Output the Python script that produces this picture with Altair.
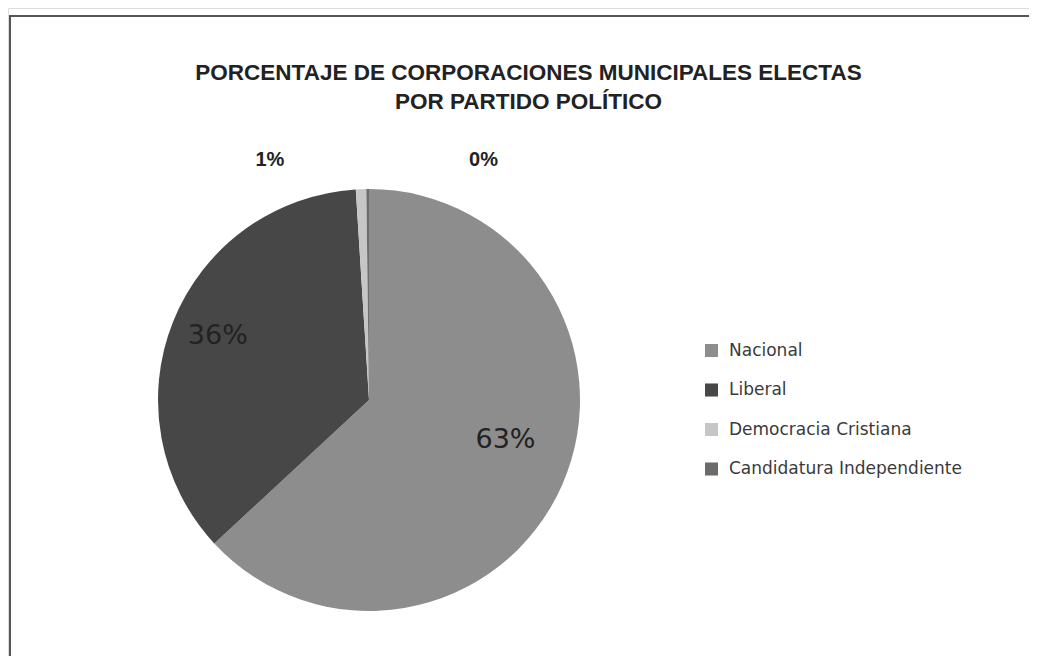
import altair as alt
import pandas as pd

partidos = ["Nacional", "Liberal", "Democracia Cristiana", "Candidatura Independiente"]
porcentajes = [63.1, 35.9, 0.8, 0.2]
etiquetas = ["63%", "36%", "1%", "0%"]
colores = ["#8d8d8d", "#474747", "#c6c6c6", "#6b6b6b"]

df = pd.DataFrame({
    "partido": partidos,
    "valor": porcentajes,
    "etiqueta": etiquetas,
    "orden": list(range(len(partidos))),
})

CX, CY, R = 361, 392, 211
theta_scale = alt.Scale(domain=[0, 100])

color = alt.Color(
    "partido:N",
    scale=alt.Scale(domain=partidos, range=colores),
    sort=partidos,
    legend=alt.Legend(
        title=None,
        orient="none",
        legendX=695,
        legendY=334,
        symbolType="square",
        symbolSize=170,
        symbolStrokeWidth=0,
        labelFont="DejaVu Sans",
        labelFontSize=17,
        labelColor="#3a3a3a",
        labelLimit=0,
        rowPadding=21.5,
        labelOffset=9,
    ),
)

pie = alt.Chart(df).mark_arc(radius=R, strokeWidth=0).encode(
    theta=alt.Theta("valor:Q", stack=True, scale=theta_scale),
    order=alt.Order("orden:Q"),
    color=color,
    x=alt.value(CX),
    y=alt.value(CY),
)

labels_base = alt.Chart(df).transform_window(
    acum="sum(valor)", sort=[alt.SortField("orden")], frame=[None, 0]
).transform_calculate(
    medio="datum.acum - datum.valor / 2"
)

def label(name, radius, dx, dy, size, weight, font):
    return labels_base.transform_filter(alt.datum.partido == name).mark_text(
        radius=radius, dx=dx, dy=dy, fontSize=size, fontWeight=weight,
        font=font, color="#222222"
    ).encode(
        theta=alt.Theta("medio:Q", scale=theta_scale),
        text="etiqueta:N",
        x=alt.value(CX),
        y=alt.value(CY),
    )

lbl_nac = label("Nacional", 150, -1, -20, 27, "normal", "DejaVu Sans")
lbl_lib = label("Liberal", 165, 2, -3, 27, "normal", "DejaVu Sans")
lbl_dc = label("Democracia Cristiana", 240, -90, 0, 20, "bold", "Liberation Sans")
lbl_ci = label("Candidatura Independiente", 240, 116, 0, 20, "bold", "Liberation Sans")

frame = alt.Chart(pd.DataFrame({"k": [0]})).mark_rect(
    filled=False, stroke="#555555", strokeWidth=2
).encode(x=alt.value(2), y=alt.value(8), x2=alt.value(1100), y2=alt.value(720))

chart = alt.layer(frame, pie, lbl_nac, lbl_lib, lbl_dc, lbl_ci).properties(
    width=1021,
    height=648,
    padding=0,
    autosize=alt.AutoSizeParams(type="none"),
    title=alt.TitleParams(
        text=["PORCENTAJE DE CORPORACIONES MUNICIPALES ELECTAS", "POR PARTIDO POLÍTICO"],
        anchor="middle",
        font="Liberation Sans",
        fontSize=22.5,
        fontWeight="bold",
        color="#222222",
        lineHeight=29,
        baseline="top",
        dy=55,
        dx=10,
        offset=-50,
    ),
).configure_view(stroke=None).configure(background="white")

chart.save("out.html", embed_options={"renderer": "svg", "actions": False})
